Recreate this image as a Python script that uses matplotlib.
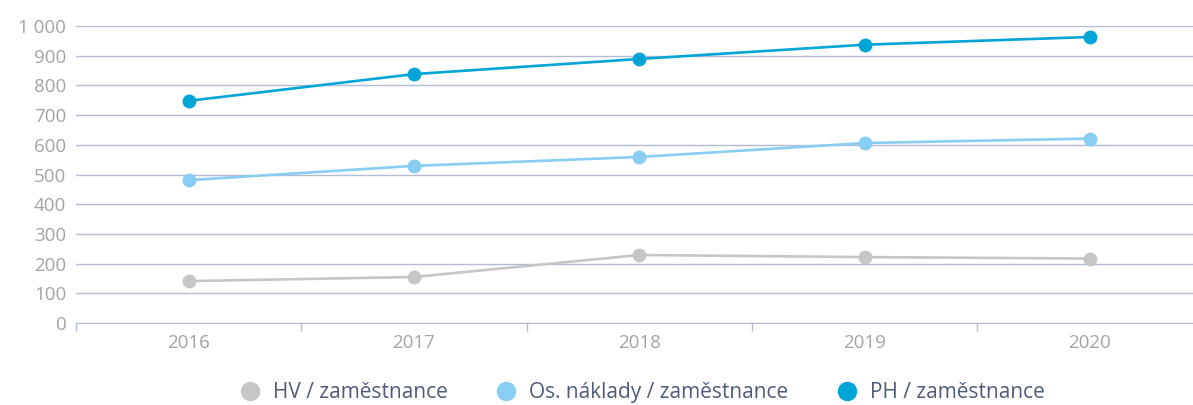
"""Employee ratios 2016-2020: HV, personnel costs and PH per employee."""

import matplotlib.pyplot as plt
from matplotlib.lines import Line2D
from matplotlib.ticker import FuncFormatter

years = ["2016", "2017", "2018", "2019", "2020"]
hv = [141, 155, 229, 222, 217]
os_naklady = [481, 529, 559, 606, 621]
ph = [748, 838, 889, 937, 963]

labels = ["HV / zaměstnance", "Os. náklady / zaměstnance", "PH / zaměstnance"]
colors = ["#c6c6c6", "#88cdf2", "#00a5d5"]

plt.rcParams["font.family"] = ["Open Sans", "DejaVu Sans"]

fig = plt.figure(figsize=(11.93, 4.05), dpi=100)
ax = fig.add_axes([76 / 1193, 82 / 405, 1126.5 / 1193, 297 / 405])

x = list(range(len(years)))
for vals, c in zip([hv, os_naklady, ph], colors):
    ax.plot(x, vals, color=c, linewidth=1.9, marker="o", markersize=10,
            markeredgewidth=0, zorder=3)

ax.set_xlim(-0.5, len(years) - 0.5)
ax.set_ylim(0, 1000)
ax.set_yticks(range(0, 1001, 100))
ax.yaxis.set_major_formatter(FuncFormatter(lambda v, _: f"{int(v):,}".replace(",", " ")))
ax.grid(axis="y", color="#b4bcd4", linewidth=1)
ax.set_axisbelow(True)

# category labels centred, tick marks on band boundaries
ax.set_xticks(x)
ax.set_xticklabels(years)
ax.set_xticks([i - 0.5 for i in x], minor=True)
ax.tick_params(axis="x", which="major", length=0, pad=8, labelsize=13.5, labelcolor="#a3a3a3")
ax.tick_params(axis="x", which="minor", length=6, width=1, color="#b4bcd4")
ax.tick_params(axis="y", length=0, pad=7, labelsize=13.5, labelcolor="#a3a3a3")

for s in ["top", "right", "left"]:
    ax.spines[s].set_visible(False)
ax.spines["bottom"].set_color("#b4bcd4")

handles = [Line2D([], [], linestyle="none", marker="o", markersize=14,
                  markerfacecolor=c, markeredgewidth=0) for c in colors]
fig.legend(handles, labels, loc="center", bbox_to_anchor=(0.534, 0.03),
           ncol=3, frameon=False, fontsize=15, labelcolor="#4d5b78",
           handletextpad=0.1, columnspacing=1.8)

fig.savefig("out.png", dpi=100)
